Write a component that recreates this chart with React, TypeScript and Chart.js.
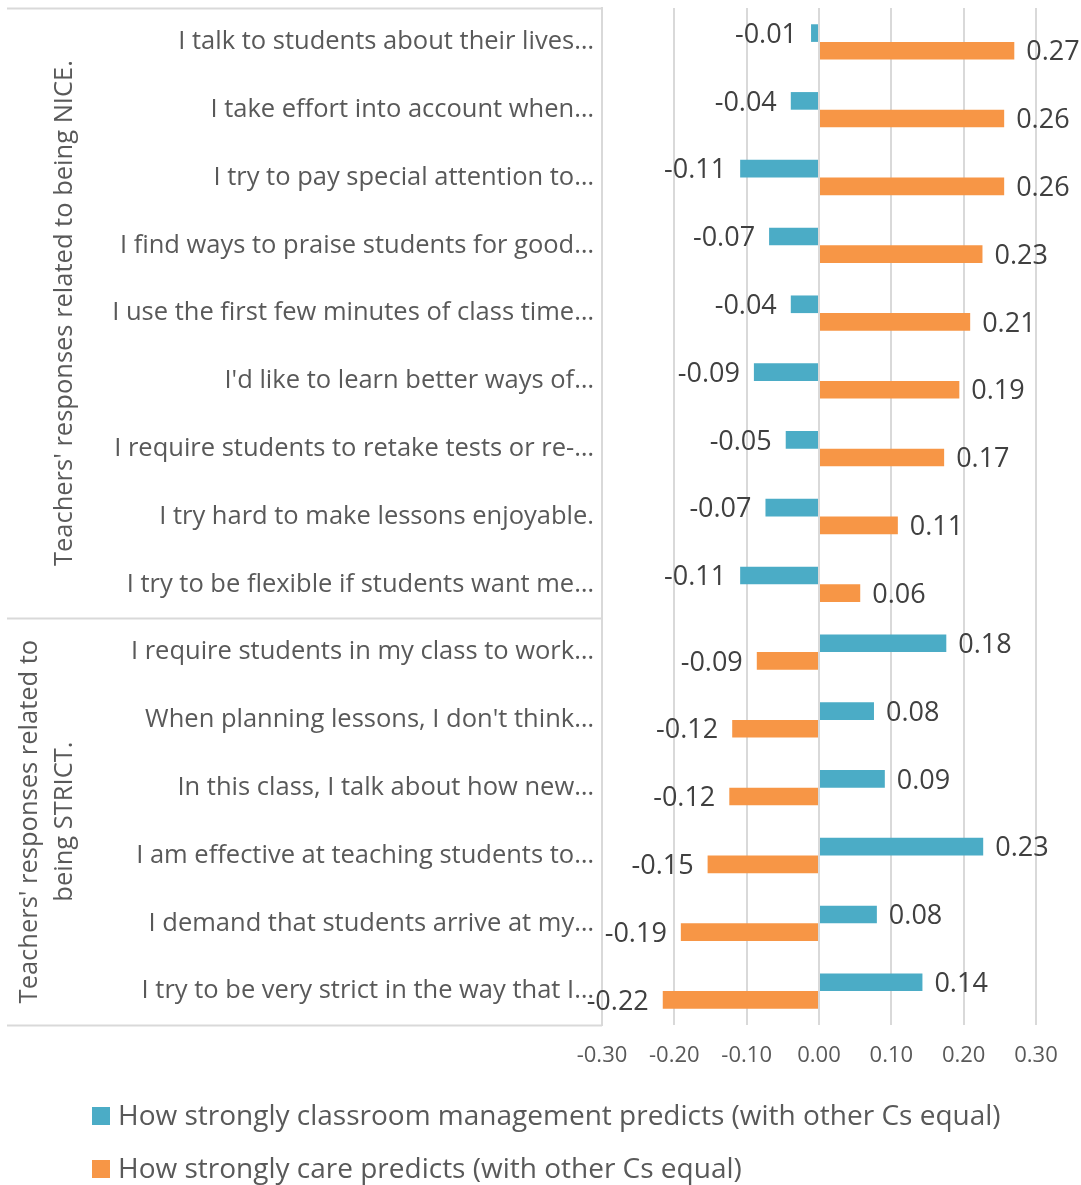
import React, { useEffect, useRef } from "react";
import { Chart, registerables } from "chart.js";

Chart.register(...registerables);

const categories = [
  "I talk to students about their lives…",
  "I take effort into account when…",
  "I try to pay special attention to…",
  "I find ways to praise students for good…",
  "I use the first few minutes of class time…",
  "I'd like to learn better ways of…",
  "I require students to retake tests or re-…",
  "I try hard to make lessons enjoyable.",
  "I try to be flexible if students want me…",
  "I require students in my class to work…",
  "When planning lessons, I don't think…",
  "In this class, I talk about how new…",
  "I am effective at teaching students to…",
  "I demand that students arrive at my…",
  "I try to be very strict in the way that I…",
];

const managementValues = [-0.011, -0.039, -0.109, -0.069, -0.039, -0.09, -0.046, -0.074, -0.109, 0.176, 0.076, 0.091, 0.227, 0.08, 0.143];
const careValues = [0.27, 0.256, 0.256, 0.226, 0.209, 0.194, 0.173, 0.109, 0.057, -0.086, -0.12, -0.124, -0.154, -0.191, -0.216];

const seriesNames = [
  "How strongly classroom management predicts (with other Cs equal)",
  "How strongly care predicts (with other Cs equal)",
];

const groupLabels = [
  ["Teachers' responses related to being NICE."],
  ["Teachers' responses related to", "being STRICT."],
];
const groupSizes = [9, 6];

const xMin = -0.3;
const xMax = 0.3;
const xStep = 0.1;

const BLUE = "#4BACC6";
const ORANGE = "#F79646";
const FONT = '"Open Sans", sans-serif';
const GRID = "#d9d9d9";

const fmt = (v: number) => {
  const r = Math.round(v * 100) / 100;
  if (Math.abs(r) < 1e-9) return "0.00";
  return r.toFixed(2);
};

const dataLabelPlugin = {
  id: "dataLabels",
  afterDatasetsDraw(chart: any) {
    const ctx = chart.ctx;
    ctx.save();
    ctx.font = `27px ${FONT}`;
    ctx.fillStyle = "#404040";
    ctx.textBaseline = "middle";
    chart.data.datasets.forEach((ds: any, di: number) => {
      const meta = chart.getDatasetMeta(di);
      meta.data.forEach((bar: any, i: number) => {
        const v = ds.data[i] as number;
        const { x, y } = bar.getProps(["x", "y"], true);
        if (v >= 0) {
          ctx.textAlign = "left";
          ctx.fillText(fmt(v), x + 12, y + 2);
        } else {
          ctx.textAlign = "right";
          ctx.fillText(fmt(v), x - 14, y + 2);
        }
      });
    });
    ctx.restore();
  },
};

const groupPlugin = {
  id: "groups",
  afterDraw(chart: any) {
    const ctx = chart.ctx;
    const area = chart.chartArea;
    const yScale = chart.scales.y;
    const left = 7;
    ctx.save();
    ctx.strokeStyle = GRID;
    ctx.lineWidth = 2;
    const bounds: number[] = [area.top];
    let idx = 0;
    groupSizes.forEach((n) => {
      idx += n;
      if (idx >= categories.length) bounds.push(area.bottom);
      else bounds.push((yScale.getPixelForValue(idx - 1) + yScale.getPixelForValue(idx)) / 2);
    });
    bounds.forEach((b) => {
      ctx.beginPath();
      ctx.moveTo(left, Math.round(b) + 0.5);
      ctx.lineTo(area.left, Math.round(b) + 0.5);
      ctx.stroke();
    });
    ctx.font = `25.5px ${FONT}`;
    ctx.fillStyle = "#595959";
    ctx.textAlign = "center";
    ctx.textBaseline = "middle";
    const lineH = 35;
    groupLabels.forEach((lines, gi) => {
      const cy = (bounds[gi] + bounds[gi + 1]) / 2;
      const n = lines.length;
      const cx0 = n === 1 ? 65 : 30;
      lines.forEach((t, li) => {
        ctx.save();
        ctx.translate(cx0 + li * lineH, cy);
        ctx.rotate(-Math.PI / 2);
        ctx.fillText(t, 0, 0);
        ctx.restore();
      });
    });
    // legend
    const colors = [BLUE, ORANGE];
    const ys = [1116, 1169];
    ctx.font = `28px ${FONT}`;
    ctx.textAlign = "left";
    seriesNames.forEach((name, i) => {
      ctx.fillStyle = colors[i];
      ctx.fillRect(92, ys[i] - 9, 18, 18);
      ctx.fillStyle = "#595959";
      ctx.fillText(name, 118, ys[i] + 1);
    });
    ctx.restore();
  },
};

export default function App() {
  const ref = useRef<HTMLCanvasElement>(null);
  useEffect(() => {
    if (!ref.current) return;
    const chart = new Chart(ref.current, {
      type: "bar",
      data: {
        labels: categories,
        datasets: [
          {
            label: seriesNames[0],
            data: managementValues,
            backgroundColor: BLUE,
            categoryPercentage: 0.52,
            barPercentage: 1.0,
          },
          {
            label: seriesNames[1],
            data: careValues,
            backgroundColor: ORANGE,
            categoryPercentage: 0.52,
            barPercentage: 1.0,
          },
        ],
      },
      options: {
        indexAxis: "y",
        animation: false,
        responsive: true,
        maintainAspectRatio: false,
        layout: { padding: { top: 8, right: 45, left: 0, bottom: 0 } },
        plugins: {
          legend: { display: false },
          tooltip: { enabled: false },
        },
        scales: {
          x: {
            min: xMin,
            max: xMax,
            ticks: {
              stepSize: xStep,
              callback: (v: any) => fmt(Number(v)),
              font: { family: FONT, size: 22 },
              color: "#595959",
              padding: 18,
            },
            grid: { color: GRID, lineWidth: 2, drawTicks: false },
            border: { display: false },
            afterFit: (scale: any) => {
              scale.height = 160;
              scale.paddingLeft = 0;
              scale.paddingRight = 0;
            },
          },
          y: {
            ticks: {
              font: { family: FONT, size: 25.5 },
              color: "#595959",
              padding: 8,
              autoSkip: false,
            },
            grid: { display: false, drawTicks: false },
            border: { display: true, color: GRID, width: 2 },
            afterFit: (scale: any) => {
              scale.width = 602;
              scale.paddingTop = 0;
              scale.paddingBottom = 0;
            },
          },
        },
      } as any,
      plugins: [dataLabelPlugin, groupPlugin],
    });
    return () => chart.destroy();
  }, []);
  return (
    <div style={{ position: "absolute", left: 0, top: 0, width: 1081, height: 1185 }}>
      <canvas ref={ref} />
    </div>
  );
}
